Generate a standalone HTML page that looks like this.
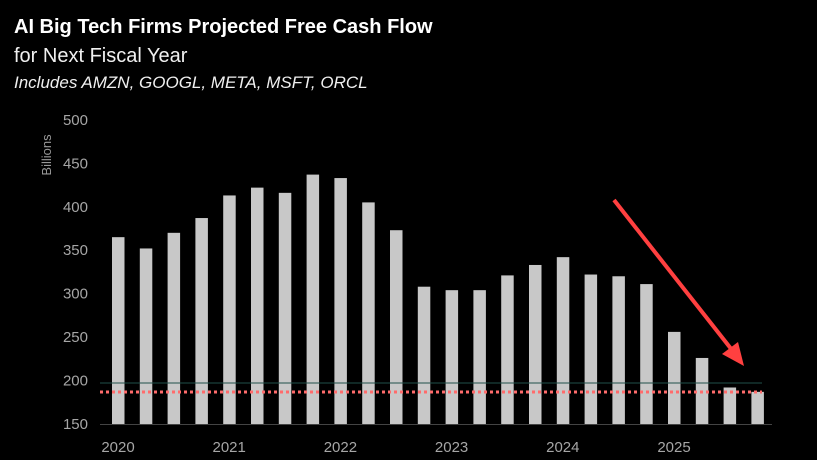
<!DOCTYPE html>
<html><head><meta charset="utf-8"><style>
html,body{margin:0;padding:0;background:#000;width:817px;height:460px;overflow:hidden}
</style></head><body>
<svg id="s" width="817" height="460" xmlns="http://www.w3.org/2000/svg" style="display:block;font-family:'Liberation Sans',sans-serif">
<rect width="817" height="460" fill="#000"/>
<text x="14" y="33" fill="#fff" font-size="20" font-weight="bold">AI Big Tech Firms Projected Free Cash Flow</text>
<text x="14" y="62" fill="#f0f0f0" font-size="20">for Next Fiscal Year</text>
<text x="14" y="88" fill="#f0f0f0" font-size="17" font-style="italic">Includes AMZN, GOOGL, META, MSFT, ORCL</text>
<text transform="translate(51,155) rotate(-90)" text-anchor="middle" fill="#999" font-size="13">Billions</text>
<g id="g" fill="#a6a6a6" font-size="15"></g>
</svg>
<script>
var g=document.getElementById('g'),h='';
function Y(v){return 424-(v-150)*0.869;}
[150,200,250,300,350,400,450,500].forEach(function(v){h+='<text x="88" y="'+(Y(v)+5)+'" text-anchor="end">'+v+'</text>';});
var d=[365,352,370,387,413,422,416,437,433,405,373,308,304,304,321,333,342,322,320,311,256,226,192,187];
d.forEach(function(v,i){var c=118+i*27.8;h+='<rect x="'+(c-6)+'" y="'+Y(v)+'" width="12.5" height="'+(424-Y(v))+'" fill="#c8c8c8"/>';});
h+='<line x1="100" y1="424.5" x2="772" y2="424.5" stroke="#444" stroke-width="1"/>';
h+='<line x1="100" y1="383" x2="762" y2="383" stroke="#1f4f4a" stroke-width="1"/>';
h+='<line x1="100" y1="392" x2="762" y2="392" stroke="#ff6b6b" stroke-width="3" stroke-dasharray="3,3"/>';
['2020','2021','2022','2023','2024','2025'].forEach(function(t,i){h+='<text x="'+(118+i*111.2)+'" y="452" text-anchor="middle" font-size="15">'+t+'</text>';});
h+='<line x1="614" y1="200" x2="732" y2="350" stroke="#ff4040" stroke-width="4"/>';
h+='<polygon points="744,366 722,354 738,342" fill="#ff4040"/>';
g.innerHTML=h;
</script>
</body></html>
